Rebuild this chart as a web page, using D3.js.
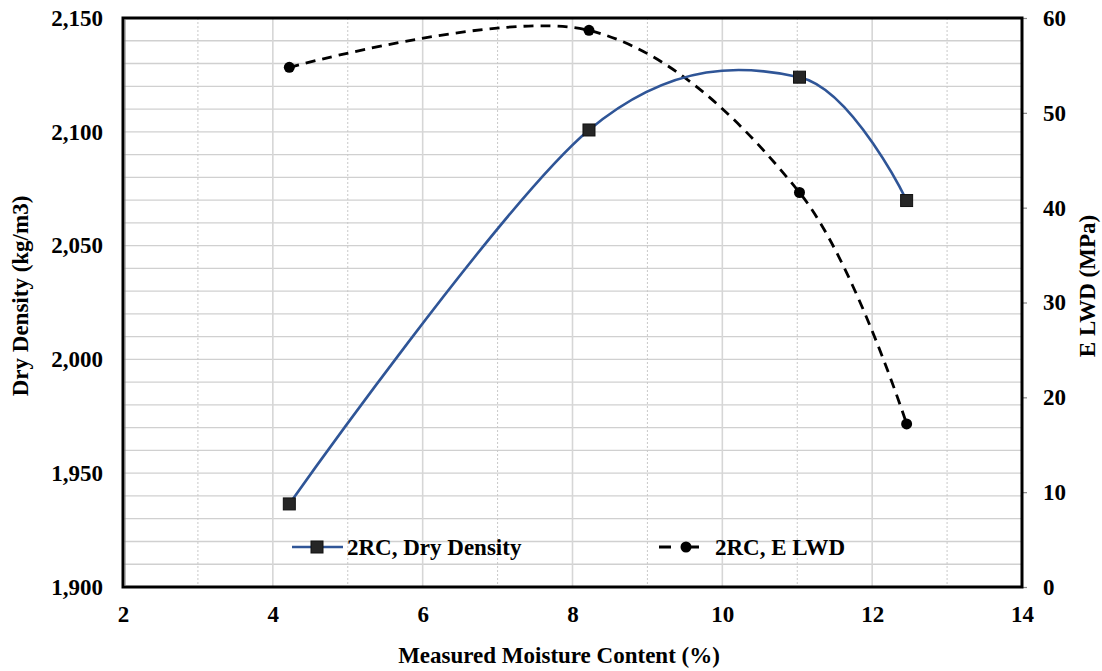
<!DOCTYPE html>
<html><head><meta charset="utf-8">
<script src="https://cdn.jsdelivr.net/npm/d3@7"></script>
</head>
<body style="margin:0;background:#fff">
<svg id="c" width="1102" height="671" style="position:absolute;left:0;top:0"></svg>
<script>
// Data
const moisture = [4.22, 8.22, 11.03, 12.46];
const dryDensity = [1936.5, 2100.8, 2124, 2069.8];
const eLWD = [54.8, 58.7, 41.6, 17.2];
const xTicks = [2, 4, 6, 8, 10, 12, 14];
const yLeftTicks = [1900, 1950, 2000, 2050, 2100, 2150];
const yRightTicks = [0, 10, 20, 30, 40, 50, 60];
const seriesNames = ["2RC, Dry Density", "2RC, E LWD"];

const FONT = "Liberation Serif";
const FS = 23;
const svg = d3.select("#c");
const L = 123, R = 1022, T = 18, B = 587;
const x = d3.scaleLinear().domain([2, 14]).range([L, R]);
const yL = d3.scaleLinear().domain([1900, 2150]).range([B, T]);
const yR = d3.scaleLinear().domain([0, 60]).range([B, T]);

const txt = (sel) => sel.attr("font-family", FONT).attr("font-weight", "bold").attr("font-size", FS).attr("fill", "#000");

const g = svg.append("g");
d3.range(1910, 2150, 10).forEach(v => {
  g.append("line").attr("x1", L).attr("x2", R).attr("y1", yL(v)).attr("y2", yL(v))
    .attr("stroke", "#d0d0d0").attr("stroke-width", 1.3);
});
d3.range(3, 14, 2).forEach(v => {
  g.append("line").attr("x1", x(v)).attr("x2", x(v)).attr("y1", T).attr("y2", B)
    .attr("stroke", "#c8c8c8").attr("stroke-width", 1).attr("stroke-dasharray", "2,2");
});
d3.range(4, 14, 2).forEach(v => {
  g.append("line").attr("x1", x(v)).attr("x2", x(v)).attr("y1", T).attr("y2", B)
    .attr("stroke", "#d6d6d6").attr("stroke-width", 1.6);
});

const axB = svg.append("g").attr("transform", `translate(0,${B})`)
  .call(d3.axisBottom(x).tickValues(xTicks).tickSize(0).tickPadding(19).tickFormat(d3.format("d")));
const axL = svg.append("g").attr("transform", `translate(${L},0)`)
  .call(d3.axisLeft(yL).tickValues(yLeftTicks).tickSize(0).tickPadding(20).tickFormat(d3.format(",")));
const axR = svg.append("g").attr("transform", `translate(${R},0)`)
  .call(d3.axisRight(yR).tickValues(yRightTicks).tickSize(5).tickPadding(16).tickFormat(d3.format("d")));
[axB, axL, axR].forEach(a => {
  a.select(".domain").remove();
  a.attr("font-family", FONT).attr("font-size", FS).attr("font-weight", "bold");
  a.selectAll("text").call(txt);
});
axR.selectAll("line").attr("stroke", "#888").attr("stroke-width", 1.2);

svg.append("rect").attr("x", L).attr("y", T).attr("width", R - L).attr("height", B - T)
  .attr("fill", "none").attr("stroke", "#000").attr("stroke-width", 3);
svg.append("line").attr("x1", L + 2).attr("x2", L + 2).attr("y1", T + 1).attr("y2", B - 1)
  .attr("stroke", "#777").attr("stroke-width", 1);

const pts1 = moisture.map((m, i) => [x(m), yL(dryDensity[i])]);
const pts2 = moisture.map((m, i) => [x(m), yR(eLWD[i])]);
const line = d3.line().curve(d3.curveCatmullRom.alpha(0));
svg.append("path").attr("d", line(pts2)).attr("fill", "none").attr("stroke", "#000")
  .attr("stroke-width", 2.8).attr("stroke-dasharray", "10,7");
svg.append("path").attr("d", line(pts1)).attr("fill", "none").attr("stroke", "#2f5597")
  .attr("stroke-width", 2.6);

svg.selectAll(".sq").data(pts1).join("rect")
  .attr("x", d => d[0] - 6).attr("y", d => d[1] - 6).attr("width", 12).attr("height", 12)
  .attr("fill", "#262626").attr("stroke", "#111").attr("stroke-width", 1);
svg.selectAll(".ci").data(pts2).join("circle")
  .attr("cx", d => d[0]).attr("cy", d => d[1]).attr("r", 5.5).attr("fill", "#000");

const ly = 547;
svg.append("line").attr("x1", 292).attr("x2", 343).attr("y1", ly).attr("y2", ly)
  .attr("stroke", "#2f5597").attr("stroke-width", 2.6);
svg.append("rect").attr("x", 311).attr("y", ly - 6).attr("width", 12).attr("height", 12)
  .attr("fill", "#262626").attr("stroke", "#111");
svg.append("text").attr("x", 347).attr("y", ly).attr("dy", "0.34em").call(txt).text(seriesNames[0]);
svg.append("line").attr("x1", 659).attr("x2", 712).attr("y1", ly).attr("y2", ly)
  .attr("stroke", "#000").attr("stroke-width", 2.8).attr("stroke-dasharray", "12,16");
svg.append("circle").attr("cx", 686).attr("cy", ly).attr("r", 5.5).attr("fill", "#000");
svg.append("text").attr("x", 715).attr("y", ly).attr("dy", "0.34em").call(txt).text(seriesNames[1]);

svg.append("text").attr("x", 559).attr("y", 655).attr("dy", "0.34em")
  .attr("text-anchor", "middle").call(txt).text("Measured Moisture Content (%)");
svg.append("text").attr("transform", "translate(20,296) rotate(-90)").attr("dy", "0.34em")
  .attr("text-anchor", "middle").call(txt).text("Dry Density (kg/m3)");
svg.append("text").attr("transform", "translate(1087,286) rotate(-90)").attr("dy", "0.34em")
  .attr("text-anchor", "middle").call(txt).text("E LWD (MPa)");
</script></body></html>
